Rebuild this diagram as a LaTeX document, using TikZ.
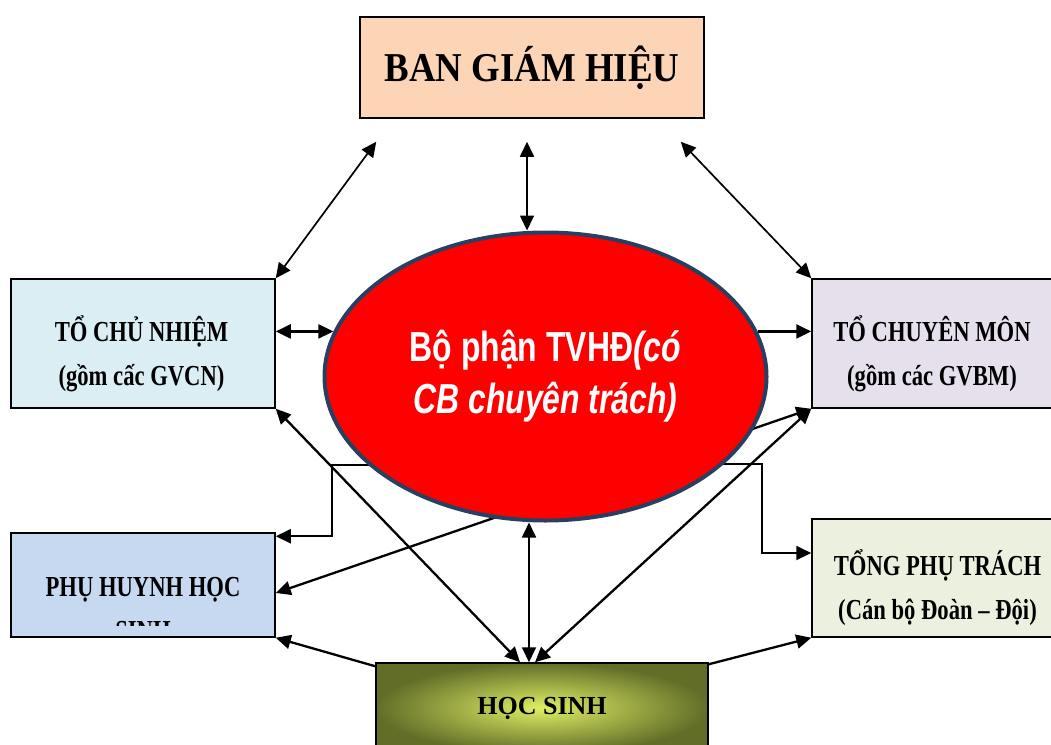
\documentclass[tikz,border=0pt]{standalone}
\usepackage{fontspec}
\setmainfont{Liberation Serif}
\newfontfamily\narrowserif{Liberation Serif}[FakeStretch=0.78]
\newfontfamily\titleserif{Liberation Serif}[FakeStretch=0.9]
\newfontfamily\narrowsans{Liberation Sans}[FakeStretch=0.76]
\usetikzlibrary{calc}
\usetikzlibrary{shapes.geometric}
\usetikzlibrary{arrows.meta}
\definecolor{peach}{RGB}{251,213,181}
\definecolor{aqua}{RGB}{218,238,243}
\definecolor{lilac}{RGB}{229,224,236}
\definecolor{sky}{RGB}{198,217,241}
\definecolor{mint}{RGB}{235,241,222}
\definecolor{navy}{RGB}{40,64,96}
\definecolor{olive}{RGB}{98,110,40}
\definecolor{lime}{RGB}{224,238,100}
\pgfdeclarelayer{background}
\pgfsetlayers{background,main}
\tikzstyle{unit}=[rectangle,draw=black,line width=1.5pt,inner sep=0pt]
\tikzstyle{unittext}=[font=\narrowserif\bfseries\fontsize{29}{44}\selectfont,align=center]
\tikzstyle{link}=[line width=2.3pt,>={Triangle[length=15pt,width=14pt]}]

\begin{document}
\begin{tikzpicture}[x=1pt,y=-1pt]
\useasboundingbox (0,0) rectangle (1051,744);
\clip (0,0) rectangle (1051,744);
% boxes
\node[unit,fill=peach,minimum width=344pt,minimum height=101pt,
      font=\titleserif\bfseries\fontsize{41}{48}\selectfont] (bgh) at (532,67.5) {BAN GIÁM HIỆU};
\node[unit,fill=aqua,minimum width=264pt,minimum height=129pt] (tcn) at (143,343.5) {};
\node[unit,fill=lilac,minimum width=250pt,minimum height=129pt] (tcm) at (937,343.5) {};
\node[unit,fill=sky,minimum width=264pt,minimum height=104pt] (phhs) at (143,585) {};
\node[unit,fill=mint,minimum width=250pt,minimum height=118pt] (tpt) at (937,578) {};
\node[unit,inner color=lime,outer color=olive,minimum width=332pt,minimum height=90pt,
      font=\bfseries\fontsize{26}{30}\selectfont] (hs) at (542,708) {HỌC SINH};
% centre
\node[ellipse,draw=navy,line width=4pt,fill=red,minimum width=442pt,minimum height=288pt,
      inner sep=0pt,text=white,align=center,
      font=\narrowsans\bfseries\fontsize{42}{52}\selectfont] (tvhd) at (545.5,376.5)
      {Bộ phận TVHĐ\textit{(có}\\\textit{CB chuyên trách)}};
% box labels
\node[unittext] (tcn-t) at (141.5,354) {TỔ CHỦ NHIỆM\\(gồm cấc GVCN)};
\node[unittext] (tcm-t) at (932,354) {TỔ CHUYÊN MÔN\\(gồm các GVBM)};
\node[unittext] (tpt-t) at (937.5,588) {TỔNG PHỤ TRÁCH\\(Cán bộ Đoàn – Đội)};
\begin{scope}
	\clip (phhs.north west) rectangle ($(phhs.south east)+(0,-12)$);
	\node[unittext] (phhs-t) at (143,609) {PHỤ HUYNH HỌC\\SINH};
\end{scope}
% loose ends
\coordinate (bgh-l) at ($(bgh.south west)+(17,23)$);
\coordinate (bgh-m) at ($(bgh.south)+(-5,23)$);
\coordinate (bgh-r) at ($(bgh.south east)+(-24,23)$);
\coordinate (hs-l) at ($(hs.north)+(-22,0)$);
\coordinate (hs-m) at ($(hs.north)+(-13,0)$);
\coordinate (hs-r) at ($(hs.north)+(-7,0)$);
\coordinate (tvhd-sw) at (392,465);
\coordinate (tvhd-se) at (698,464);
\begin{pgfonlayer}{background}
	% from the board
	\draw[link,line width=1.7pt,<->] (bgh-l) -- (tcn.north east);
	\draw[link,line width=1.7pt,<->] (bgh-m) -- (bgh-m |- tvhd.north);
	\draw[link,line width=1.7pt,<->] (bgh-r) -- (tcm.north west);
	% side boxes
	\draw[link,<->] (tcn.east |- tvhd.168) -- (tvhd.168);
	\draw[link,->] (tvhd.12) -- (tvhd.12 -| tcm.west);
	\draw[link,<->] ($(phhs.east)+(0,8)$) -- (tcm.south west);
	%elbows under the ellipse
	\draw[link,line width=2pt,<->] (tvhd-sw) -- ++(-60,0) |- ($(phhs.north east)+(0,4)$);
	\draw[link,line width=2pt,<->] (tvhd-se) -- ++(64,0) |- ($(tpt.west)+(0,-25)$);
	% students
	\draw[link,<->] (tcn.south east) -- (hs-l);
	\draw[link,<->] (hs-r) -- (tcm.south west);
	\draw[link,line width=1.7pt,<->] (hs-m) -- (hs-m |- tvhd.south);
	\draw[link,->] ($(hs.north west)+(0,4)$) -- (phhs.south east);
	\draw[link,->] ($(hs.north east)+(0,2)$) -- (tpt.south west);
\end{pgfonlayer}
\end{tikzpicture}
\end{document}
